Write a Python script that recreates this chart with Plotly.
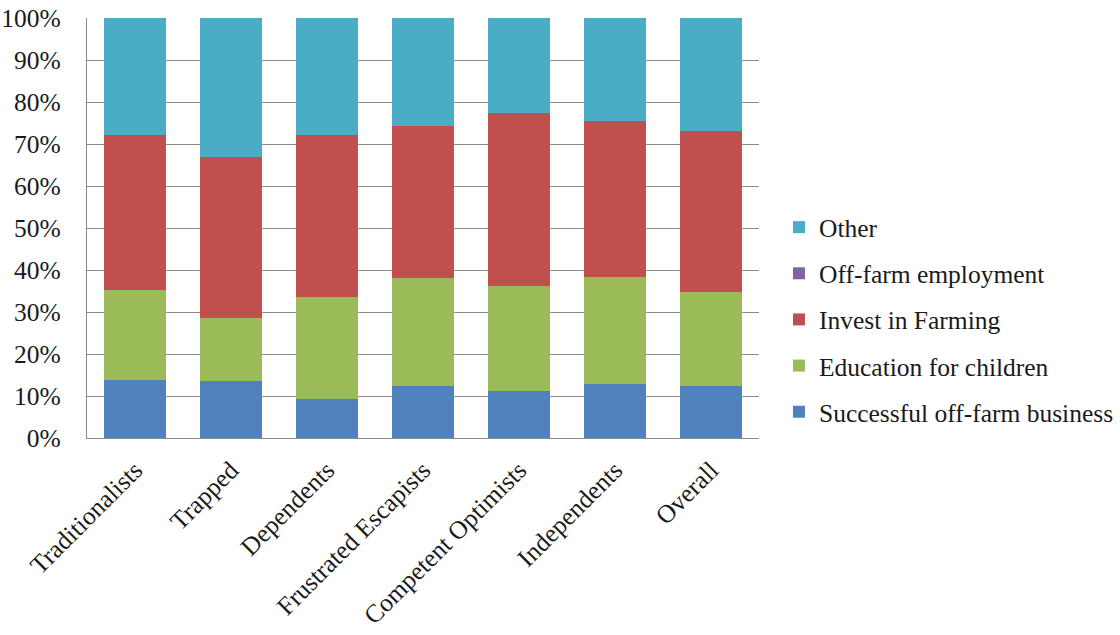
import plotly.graph_objects as go

categories = ["Traditionalists", "Trapped", "Dependents", "Frustrated Escapists",
              "Competent Optimists", "Independents", "Overall"]

# Share of each aspiration within each group (%)
successful_business = [13.9, 13.6, 9.4, 12.4, 11.2, 12.9, 12.4]
education_children = [21.4, 14.9, 24.2, 25.6, 25.1, 25.5, 22.4]
invest_farming = [36.9, 38.5, 38.6, 36.3, 41.1, 37.0, 38.3]
off_farm_employment = [0.0, 0.0, 0.0, 0.0, 0.0, 0.0, 0.0]
other = [27.8, 33.0, 27.8, 25.7, 22.6, 24.6, 26.9]

series = [
    ("Successful off-farm business", successful_business, "#4F81BD"),
    ("Education for children", education_children, "#9BBB59"),
    ("Invest in Farming", invest_farming, "#C0504D"),
    ("Off-farm employment", off_farm_employment, "#8064A2"),
    ("Other", other, "#4BACC6"),
]

FONT = "Liberation Serif"
FSIZE = 25.5

fig = go.Figure()
n = len(series)
for i, (name, vals, color) in enumerate(series):
    fig.add_trace(go.Bar(
        x=categories, y=vals, name=name,
        marker=dict(color=color, line=dict(width=0)),
        legendgroup=f"g{i}",
        legendrank=n - i,  # top of the stack listed first
    ))

fig.update_layout(
    barmode="stack",
    barnorm="percent",
    bargap=0.357,
    width=1120, height=635,
    margin=dict(l=87, r=361, t=18, b=197, autoexpand=False),
    paper_bgcolor="white",
    plot_bgcolor="white",
    font=dict(family=FONT, size=FSIZE, color="#1a1a1a"),
    legend=dict(
        traceorder="grouped",
        xref="container", x=0.6955, y=0.282, xanchor="left", yanchor="middle",
        font=dict(family=FONT, size=FSIZE, color="#1a1a1a"),
        tracegroupgap=10,
        itemwidth=30,
    ),
    showlegend=True,
)

fig.update_yaxes(
    range=[0, 100],
    tickvals=[0, 10, 20, 30, 40, 50, 60, 70, 80, 90, 100],
    ticktext=["0%", "10%", "20%", "30%", "40%", "50%", "60%", "70%", "80%", "90%", "100%"],
    showgrid=True, gridcolor="#8a8a8a", gridwidth=1.3,
    showline=True, linecolor="#8a8a8a", linewidth=1.3,
    ticks="outside", ticklen=20, tickcolor="rgba(0,0,0,0)",
    zeroline=False, automargin=False,
    tickfont=dict(family=FONT, size=FSIZE),
)
fig.update_xaxes(
    showline=True, linecolor="#8a8a8a", linewidth=1.3,
    tickangle=-45,
    ticks="outside", ticklen=6, tickcolor="rgba(0,0,0,0)",
    automargin=False,
    tickfont=dict(family=FONT, size=FSIZE),
)

fig.write_html("out.html")
